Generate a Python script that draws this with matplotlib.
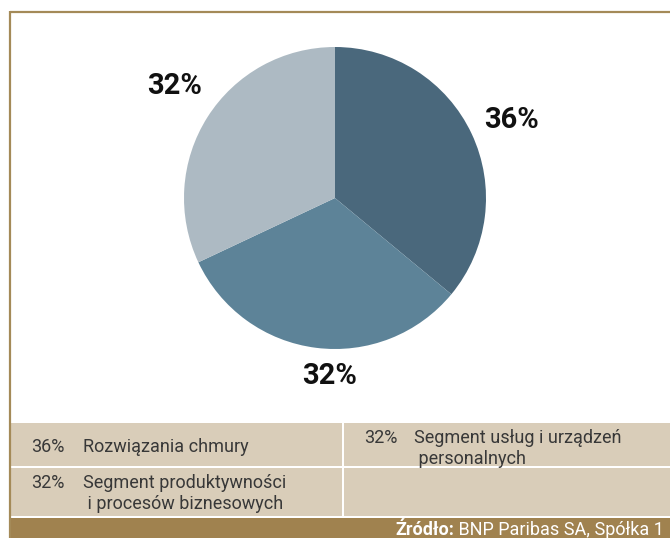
import numpy as np
import matplotlib
matplotlib.use("Agg")
import matplotlib.pyplot as plt
from matplotlib.patches import Rectangle
from matplotlib.transforms import offset_copy

W, H = 670, 538

# data
shares = [36, 32, 32]
pie_labels = ['36%', '32%', '32%']
segments = ['Rozwiązania chmury',
            'Segment produktywności\n i procesów biznesowych',
            'Segment usług i urządzeń\n personalnych']
colors = ['#4a687c', '#5d8398', '#adbac3']
source_bold = 'Źródło:'
source_text = 'BNP Paribas SA, Spółka 1'

fig = plt.figure(figsize=(W / 100, H / 100), dpi=100)
fig.patch.set_facecolor('white')

# background layer in pixel coords
bg = fig.add_axes([0, 0, 1, 1])
bg.set_xlim(0, W)
bg.set_ylim(H, 0)
bg.axis('off')

gold = '#a48a58'
bg.plot([10, 10], [11, H], color=gold, lw=1.6, solid_capstyle='butt')
bg.plot([10, W], [11.5, 11.5], color=gold, lw=1.6, solid_capstyle='butt')

cell = '#d9cdb9'
bg.add_patch(Rectangle((11, 423), 331, 43, color=cell, lw=0))
bg.add_patch(Rectangle((344, 423), W - 344, 43, color=cell, lw=0))
bg.add_patch(Rectangle((11, 468), 331, 47.5, color=cell, lw=0))
bg.add_patch(Rectangle((344, 468), W - 344, 47.5, color=cell, lw=0))
bg.add_patch(Rectangle((11, 517.5), W - 11, H - 517.5, color='#a0824f', lw=0))

leg_font = ['Roboto', 'DejaVu Sans']
txt_col = '#383838'
fs = 13
# legend cells: (pct x, text x, y of first line)
cells = [(31, 83, 445), (31, 83, 481), (364, 414, 436)]
for (px, tx, ty), pct, name in zip(cells, pie_labels, segments):
    bg.text(px, ty, pct, family=leg_font, fontsize=fs, color=txt_col,
            ha='left', va='center_baseline')
    for i, line in enumerate(name.split('\n')):
        bg.text(tx, ty + 21 * i, line, family=leg_font, fontsize=fs,
                color=txt_col, ha='left', va='center_baseline')

src = bg.text(W - 6, 528, ' ' + source_text, family=leg_font, fontsize=fs,
              color='white', ha='right', va='center_baseline')
fig.canvas.draw()
bb = src.get_window_extent()
x0 = bg.transData.inverted().transform((bb.x0, bb.y0))[0]
bg.text(x0, 528, source_bold, family=leg_font, fontsize=fs,
        color='white', fontweight='bold', ha='right', va='center_baseline')

# pie
cx, cy, r = 335, 198, 151
ax = fig.add_axes([(cx - r) / W, (H - cy - r) / H, 2 * r / W, 2 * r / H])
wedges, _ = ax.pie(shares, colors=colors, startangle=90, counterclock=False,
                   radius=1.0, wedgeprops=dict(linewidth=0))
ax.set_xlim(-1, 1)
ax.set_ylim(-1, 1)
ax.axis('off')

dists = [1.28, 1.17, 1.30]
nudge = [-1, 5.5, -3.0]
lab_tr = offset_copy(ax.transData, fig=fig, x=0, y=-1.5, units='dots')
for w, lab, d, n in zip(wedges, pie_labels, dists, nudge):
    ang = np.deg2rad((w.theta1 + w.theta2) / 2 + n)
    ax.text(d * np.cos(ang), d * np.sin(ang), lab, family='Roboto',
            fontweight='bold', fontsize=21, color='#111111',
            ha='center', va='center', clip_on=False, transform=lab_tr)

fig.savefig('out.png', dpi=100)
